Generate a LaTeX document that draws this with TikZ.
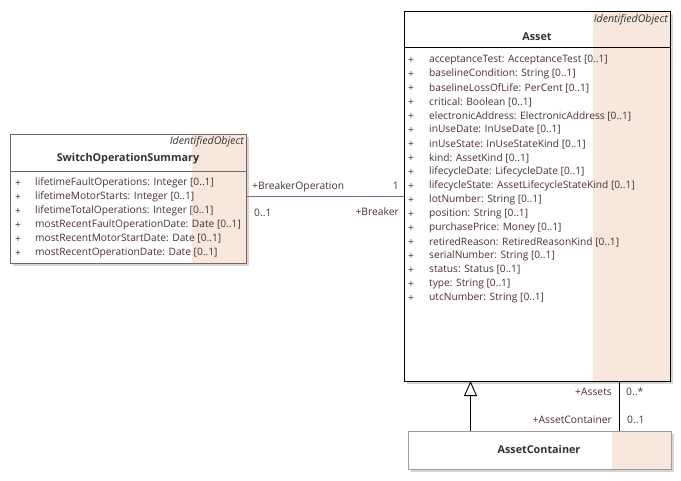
\documentclass[tikz,border=0pt]{standalone}
\usepackage{fontspec}
\setmainfont{Open Sans}
\usetikzlibrary{arrows.meta}
\definecolor{band}{HTML}{F7E7DD}
\definecolor{txt}{HTML}{4E2F2F}
\definecolor{sosborder}{HTML}{7A6460}
\definecolor{acborder}{HTML}{A09A9A}
\definecolor{shadowc}{HTML}{D4D4D4}
\definecolor{assoc}{HTML}{5E7390}
\tikzset{
  attr/.style={anchor=west, inner sep=0pt, font=\fontsize{10.2}{12}\selectfont, text=txt},
  plus/.style={anchor=west, inner sep=0pt, font=\fontsize{10.2}{12}\selectfont, text=txt},
  cname/.style={inner sep=0pt, font=\fontsize{10.8}{12}\selectfont\bfseries, text=black!80},
  stereo/.style={anchor=east, inner sep=0pt, font=\fontsize{10.6}{12}\selectfont\itshape, text=black!80},
  rolelbl/.style={inner sep=0pt, font=\fontsize{10.3}{12}\selectfont, text=txt},
}
\begin{document}
\begin{tikzpicture}[x=1pt,y=-1pt]
\useasboundingbox (0,0) rectangle (681,480);
% ---- SwitchOperationSummary
\fill[shadowc] (13,137) rectangle (249,266);
\fill[white] (10,134) rectangle (246,263);
\fill[band] (192,134) rectangle (246,263);
\draw[sosborder, line width=0.9pt] (10,134) rectangle (246,263);
\draw[sosborder, line width=0.9pt] (10,171) -- (246,171);
\node[stereo] (sosst) at (244,142) {IdentifiedObject};
\node[cname] (sosname) at (128,159) {SwitchOperationSummary};
\foreach \t [count=\i] in {lifetimeFaultOperations: Integer [0..1],
  lifetimeMotorStarts: Integer [0..1],
  lifetimeTotalOperations: Integer [0..1],
  mostRecentFaultOperationDate: Date [0..1],
  mostRecentMotorStartDate: Date [0..1],
  mostRecentOperationDate: Date [0..1]} {
  \node[plus] (sosp\i) at (15,169+14*\i) {+};
  \node[attr] (sosa\i) at (35,169+14*\i) {\t};
}
% ---- Asset
\fill[shadowc] (407,14) rectangle (673,384);
\fill[white] (404,11) rectangle (670,381);
\fill[band] (593,11) rectangle (670,381);
\draw[black, line width=0.9pt] (404,11) rectangle (670,381);
\draw[black, line width=0.9pt] (404,47) -- (670,47);
\node[stereo] (ast) at (668,20) {IdentifiedObject};
\node[cname] (aname) at (537,37) {Asset};
\foreach \t [count=\i] in {acceptanceTest: AcceptanceTest [0..1],
  baselineCondition: String [0..1],
  baselineLossOfLife: PerCent [0..1],
  critical: Boolean [0..1],
  electronicAddress: ElectronicAddress [0..1],
  inUseDate: InUseDate [0..1],
  inUseState: InUseStateKind [0..1],
  kind: AssetKind [0..1],
  lifecycleDate: LifecycleDate [0..1],
  lifecycleState: AssetLifecycleStateKind [0..1],
  lotNumber: String [0..1],
  position: String [0..1],
  purchasePrice: Money [0..1],
  retiredReason: RetiredReasonKind [0..1],
  serialNumber: String [0..1],
  status: Status [0..1],
  type: String [0..1],
  utcNumber: String [0..1]} {
  \node[plus] (ap\i) at (408,46+14*\i) {+};
  \node[attr] (aa\i) at (429,46+14*\i) {\t};
}
% ---- AssetContainer
\fill[shadowc] (411,434) rectangle (674,472);
\fill[white] (408,431) rectangle (671,469);
\fill[band] (612,431) rectangle (671,469);
\draw[acborder, line width=0.9pt] (408,431) rectangle (671,469);
\node[cname] (acname) at (539,449) {AssetContainer};
% ---- connectors
\coordinate (sosR) at (246,196);
\coordinate (assetL) at (404,196);
\draw[assoc, line width=0.8pt] (sosR) -- (assetL);
\node[rolelbl, anchor=west] (l1) at (252,187) {+BreakerOperation};
\node[rolelbl, anchor=east] (l2) at (399,186) {1};
\node[rolelbl, anchor=west] (l3) at (254,213) {0..1};
\node[rolelbl, anchor=east] (l4) at (399,212) {+Breaker};
\coordinate (genB) at (470.5,431);
\coordinate (genT) at (470.5,381);
\draw[black, line width=0.9pt, -{Triangle[open, length=15pt, width=13pt]}] (genB) -- (genT);
\coordinate (asB) at (619,381);
\coordinate (acT) at (619,431);
\draw[black, line width=0.9pt] (asB) -- (acT);
\node[rolelbl, anchor=east] (l5) at (612,392) {+Assets};
\node[rolelbl, anchor=west] (l6) at (626,392) {0..*};
\node[rolelbl, anchor=east] (l7) at (612,420) {+AssetContainer};
\node[rolelbl, anchor=west] (l8) at (627,420) {0..1};
\end{tikzpicture}
\end{document}
